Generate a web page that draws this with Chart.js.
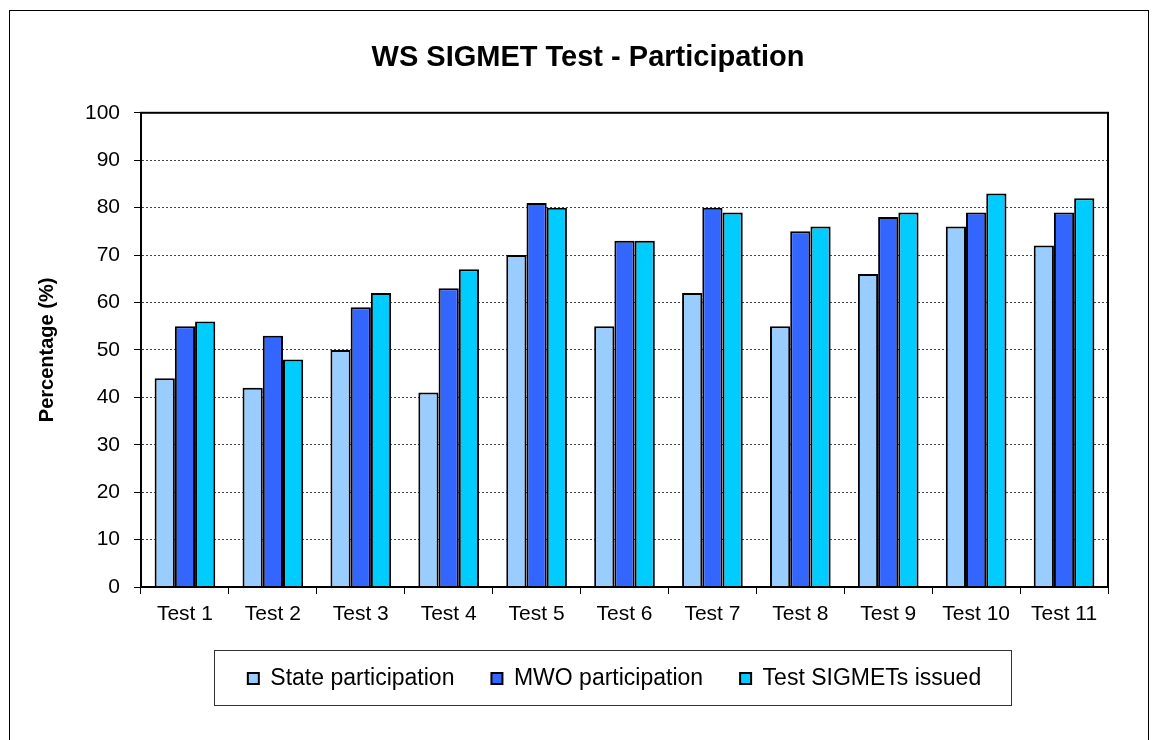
<!DOCTYPE html>
<html>
<head>
<meta charset="utf-8">
<script src="https://cdn.jsdelivr.net/npm/chart.js@4.4.0/dist/chart.umd.min.js"></script>
<style>
  html, body { margin: 0; padding: 0; background: #fff; }
  #wrap { position: relative; width: 1161px; height: 740px; }
</style>
</head>
<body>
<div id="wrap"><canvas id="chart" width="1161" height="740"></canvas></div>
<script>
// data
const tests = ["Test 1", "Test 2", "Test 3", "Test 4", "Test 5", "Test 6", "Test 7", "Test 8", "Test 9", "Test 10", "Test 11"];
const stateParticipation = [44, 42, 50, 41, 70, 55, 62, 55, 66, 76, 72];
const mwoParticipation = [55, 53, 59, 63, 81, 73, 80, 75, 78, 79, 79];
const sigmetsIssued = [56, 48, 62, 67, 80, 73, 79, 76, 79, 83, 82];

const FONT = "'Liberation Sans', Arial, sans-serif";

// outer frame, box round the plot and box round the legend
const framePlugin = {
  id: "frames",
  afterLayout(chart) {
    // legend sits a little left of the plot centre in the original
    chart.legend.left -= 10;
    chart.legend.right -= 10;
  },
  beforeDraw(chart) {
    const ctx = chart.ctx;
    ctx.save();
    ctx.fillStyle = "#fff";
    ctx.fillRect(0, 0, chart.width, chart.height);
    ctx.strokeStyle = "#000";
    ctx.lineWidth = 1;
    ctx.strokeRect(9.5, 10.5, 1139, 760);
    ctx.restore();
  },
  afterDraw(chart) {
    const ctx = chart.ctx;
    const a = chart.chartArea;
    ctx.save();
    ctx.strokeStyle = "#000";
    ctx.lineWidth = 2;
    ctx.strokeRect(a.left, a.top, a.right - a.left, a.bottom - a.top);
    // legend box
    const boxes = chart.legend.legendHitBoxes;
    if (boxes && boxes.length) {
      let t = Infinity, b = -Infinity;
      boxes.forEach(h => {
        t = Math.min(t, h.top); b = Math.max(b, h.top + h.height);
      });
      ctx.lineWidth = 1;
      ctx.strokeStyle = "#333";
      const midY = (t + b) / 2;
      const midX = (chart.legend.left + chart.legend.right) / 2 - 3;
      ctx.strokeRect(Math.round(midX - 398) + 0.5, Math.round(midY - 29) + 0.5, 797, 55);
    }
    ctx.restore();
  }
};

const data = {
  labels: tests,
  datasets: [
    { label: "State participation", data: stateParticipation, backgroundColor: "#99CCFF" },
    { label: "MWO participation", data: mwoParticipation, backgroundColor: "#3366FF" },
    { label: "Test SIGMETs issued", data: sigmetsIssued, backgroundColor: "#00CCFF" }
  ]
};
data.datasets.forEach(d => {
  d.borderColor = "#000";
  d.borderWidth = 2;
  d.categoryPercentage = 0.69;
  d.barPercentage = 1.0;
});

new Chart(document.getElementById("chart"), {
  type: "bar",
  data: data,
  plugins: [framePlugin],
  options: {
    responsive: false,
    animation: false,
    devicePixelRatio: 1,
    layout: { padding: { left: 68, right: 53, top: 0, bottom: 40 } },
    plugins: {
      title: {
        display: true,
        text: "WS SIGMET Test - Participation",
        color: "#000",
        font: { family: FONT, size: 29, weight: "bold" },
        padding: { top: 41, bottom: 37 }
      },
      legend: {
        position: "bottom",
        fullSize: false,
        labels: {
          color: "#000",
          font: { family: FONT, size: 23 },
          boxWidth: 11,
          boxHeight: 11,
          padding: 37
        }
      },
      tooltip: { enabled: false }
    },
    scales: {
      x: {
        grid: { offset: true, drawOnChartArea: false, tickLength: 7, tickColor: "#000", tickWidth: 1 },
        border: { color: "#000", width: 2 },
        ticks: { color: "#000", font: { family: FONT, size: 21 }, padding: 8, maxRotation: 0 },
        afterFit(s) { s.height = 43; }
      },
      y: {
        min: 0,
        max: 100,
        ticks: { stepSize: 10, color: "#000", font: { family: FONT, size: 21 }, padding: 14 },
        grid: { color: "#444", lineWidth: 1, tickLength: 7, tickColor: "#000", tickBorderDash: [] },
        border: { color: "#000", width: 2, dash: [2, 2] },
        title: {
          display: true,
          text: "Percentage (%)",
          color: "#000",
          font: { family: FONT, size: 20, weight: "bold" },
          padding: { top: -33, bottom: 0 }
        },
        afterFit(s) { s.width = 73; }
      }
    }
  }
});
</script>
</body>
</html>
